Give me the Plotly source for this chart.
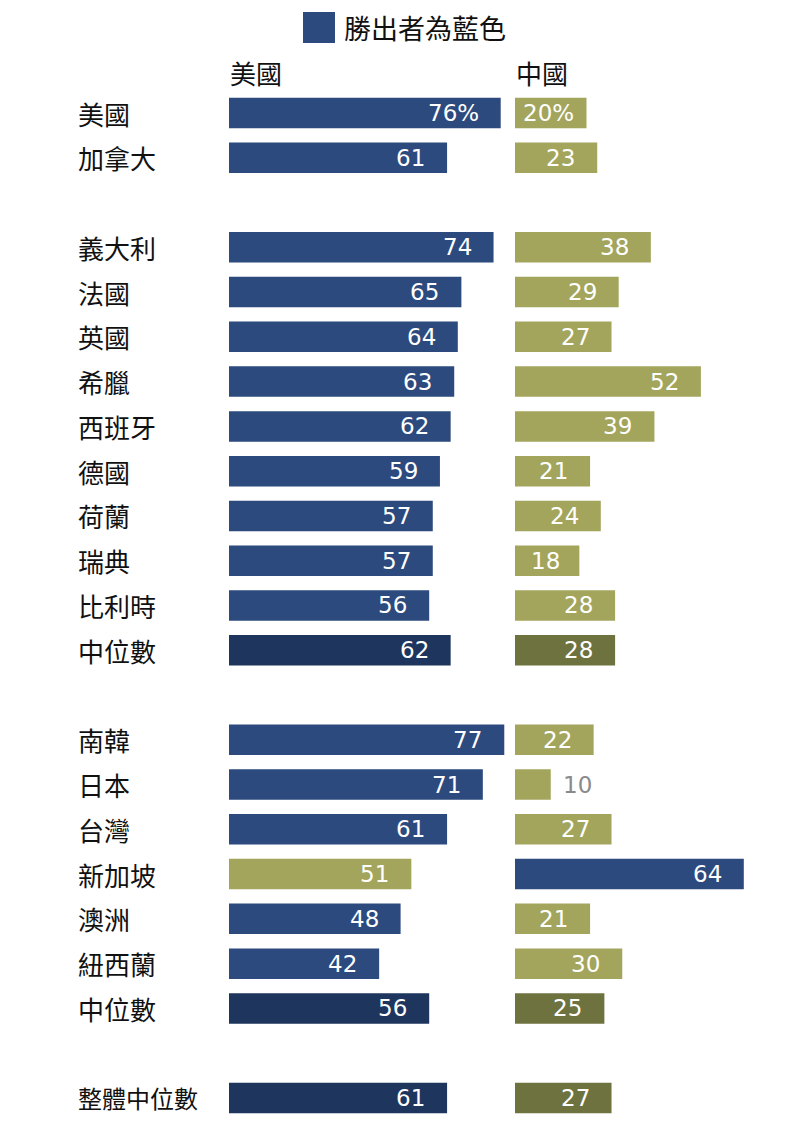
import plotly.graph_objects as go

# ---- data ----
groups = [
    ["美國", "加拿大"],
    ["義大利", "法國", "英國", "希臘", "西班牙", "德國", "荷蘭", "瑞典", "比利時", "中位數"],
    ["南韓", "日本", "台灣", "新加坡", "澳洲", "紐西蘭", "中位數"],
    ["整體中位數"],
]
us_values = [76, 61, 74, 65, 64, 63, 62, 59, 57, 57, 56, 62, 77, 71, 61, 51, 48, 42, 56, 61]
china_values = [20, 23, 38, 29, 27, 52, 39, 21, 24, 18, 28, 28, 22, 10, 27, 64, 21, 30, 25, 27]
median_labels = {"中位數", "整體中位數"}
column_titles = ["美國", "中國"]
legend_text = "勝出者為藍色"

# ---- styling ----
W, H = 800, 1140
OFF = 8  # page body margin
BLUE = "#2c4a7e"
OLIVE = "#a3a55c"
DARK_BLUE = "#1e355e"
DARK_OLIVE = "#6e723f"
PX_PER_UNIT = 3.575
ROW_PX = 44.77
FIRST_ROW_Y = 113
US_X0, US_X1 = 229, 512
CN_X0, CN_X1 = 515, 795
VAL_FONT = dict(family="DejaVu Sans", size=23)
CJK = "Noto Sans CJK TC"


def px(x):
    return (x - OFF) / W


def py(y):
    return 1 - (y - OFF) / H


labels, rows = [], []
r = 0
for g in groups:
    for name in g:
        labels.append(name)
        rows.append(r)
        r += 1
    r += 1  # blank row between groups

is_med = [name in median_labels for name in labels]

us_colors, cn_colors = [], []
for u, c, m in zip(us_values, china_values, is_med):
    if u >= c:
        us_colors.append(DARK_BLUE if m else BLUE)
        cn_colors.append(DARK_OLIVE if m else OLIVE)
    else:
        us_colors.append(DARK_OLIVE if m else OLIVE)
        cn_colors.append(DARK_BLUE if m else BLUE)

y_top = -(FIRST_ROW_Y - OFF) / ROW_PX
y_bottom = y_top + H / ROW_PX
bar_w = 30.5 / ROW_PX

fig = go.Figure()
fig.add_trace(go.Bar(y=rows, x=us_values, orientation="h", width=bar_w,
                     marker=dict(color=us_colors, line=dict(width=0)),
                     xaxis="x", yaxis="y", hoverinfo="skip", showlegend=False))
fig.add_trace(go.Bar(y=rows, x=china_values, orientation="h", width=bar_w,
                     marker=dict(color=cn_colors, line=dict(width=0)),
                     xaxis="x2", yaxis="y", hoverinfo="skip", showlegend=False))

annotations = []


def text_width(s):
    w = 0
    for ch in s:
        w += 0.95 * VAL_FONT["size"] if ch == "%" else 0.636 * VAL_FONT["size"]
    return w


for i, (row, u, c) in enumerate(zip(rows, us_values, china_values)):
    for axis, v in (("x", u), ("x2", c)):
        s = f"{v}%" if i == 0 else f"{v}"
        bar_px = v * PX_PER_UNIT
        tw = text_width(s)
        if bar_px - tw < 12:
            annotations.append(dict(x=v, y=row, xref=axis, yref="y", text=s,
                                    showarrow=False, xanchor="left", xshift=10,
                                    font=dict(**VAL_FONT, color="#8a8a8a")))
        else:
            pad = min(20, (bar_px - tw) / 2)
            annotations.append(dict(x=v, y=row, xref=axis, yref="y", text=s,
                                    showarrow=False, xanchor="right", xshift=-pad,
                                    font=dict(**VAL_FONT, color="white")))
    size = 26 if len(labels[i]) <= 4 else 24
    annotations.append(dict(x=px(76), y=row, xref="paper", yref="y", text=labels[i],
                            showarrow=False, xanchor="left",
                            font=dict(family=CJK, size=size, color="#111111")))

# column titles
for title, x0 in zip(column_titles, (US_X0, CN_X0)):
    annotations.append(dict(x=px(x0 - 1), y=py(73), xref="paper", yref="paper",
                            text=title, showarrow=False, xanchor="left",
                            yanchor="middle",
                            font=dict(family=CJK, size=26, color="#111111")))
# legend
annotations.append(dict(x=px(342), y=py(27), xref="paper", yref="paper",
                        text=legend_text, showarrow=False, xanchor="left",
                        yanchor="middle",
                        font=dict(family=CJK, size=27, color="#111111")))

fig.update_layout(
    width=W, height=H,
    margin=dict(l=0, r=0, t=0, b=0),
    paper_bgcolor="white", plot_bgcolor="white",
    barmode="overlay",
    xaxis=dict(domain=[px(US_X0), px(US_X1)], range=[0, (US_X1 - US_X0) / PX_PER_UNIT],
               visible=False, fixedrange=True),
    xaxis2=dict(domain=[px(CN_X0), px(CN_X1)], range=[0, (CN_X1 - CN_X0) / PX_PER_UNIT],
                visible=False, fixedrange=True, anchor="y"),
    yaxis=dict(domain=[0, 1], range=[y_bottom, y_top], visible=False, fixedrange=True),
    annotations=annotations,
    shapes=[dict(type="rect", xref="paper", yref="paper",
                 x0=px(303), x1=px(335), y0=py(43), y1=py(12),
                 fillcolor=BLUE, line=dict(width=0))],
)

fig.write_html("out.html")
